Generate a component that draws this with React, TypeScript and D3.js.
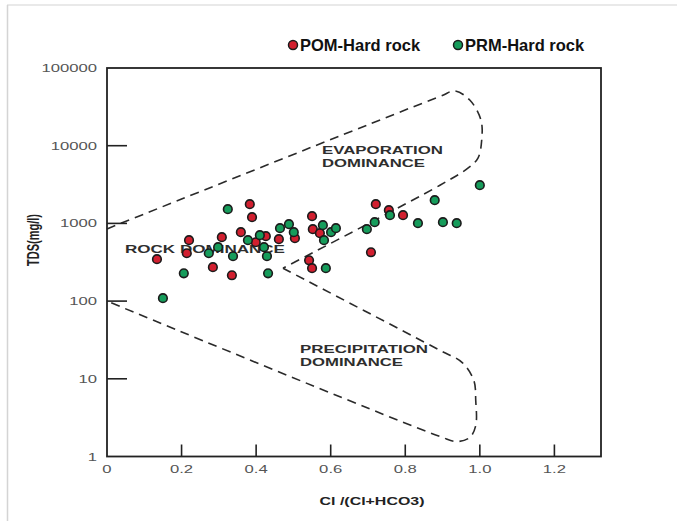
import React from 'react';
import * as d3 from 'd3';

// Gibbs diagram – hard rock samples, two seasons
const pomRatio = [0.134, 0.220, 0.214, 0.284, 0.308, 0.383, 0.389, 0.359, 0.335, 0.426, 0.399, 0.461, 0.504, 0.550, 0.552, 0.571, 0.542, 0.550, 0.721, 0.756, 0.794, 0.708];
const pomTds = [346, 608, 413, 273, 664, 1767, 1202, 771, 215, 684, 572, 626, 645, 1238, 842, 748, 335, 265, 1767, 1479, 1276, 425];

const prmRatio = [0.150, 0.206, 0.273, 0.298, 0.324, 0.338, 0.378, 0.410, 0.421, 0.429, 0.432, 0.464, 0.488, 0.501, 0.579, 0.601, 0.614, 0.582, 0.587, 0.697, 0.718, 0.759, 0.834, 0.879, 0.901, 0.938, 1.000];
const prmTds = [109, 228, 413, 494, 1524, 378, 608, 705, 494, 378, 228, 867, 977, 771, 948, 771, 867, 608, 265, 842, 1036, 1276, 1006, 1991, 1036, 1006, 3105];

// boundary curves (upper: rock/evaporation, lower: rock/precipitation)
const upperX = [0, 0.893, 0.933, 0.973, 1.003, 1.005, 0.995, 0.968, 0.893, 0.472];
const upperY = [850, 43100, 50600, 38700, 21400, 11800, 6920, 5140, 3100, 265];
const lowerX = [0.472, 0.893, 0.952, 0.984, 0.989, 0.989, 0.973, 0.938, 0.893, 0];
const lowerY = [265, 23.2, 16.3, 9.5, 5.3, 2.5, 1.76, 1.56, 1.81, 100];

const xTicks = [0, 0.2, 0.4, 0.6, 0.8, 1.0, 1.2];
const xTickLabels = ['0', '0.2', '0.4', '0.6', '0.8', '1.0', '1.2'];
const yTicks = [1, 10, 100, 1000, 10000, 100000];
const yTickLabels = ['1', '10', '100', '1000', '10000', '100000'];

const RED = '#d11f2f';
const GREEN = '#169c5b';
const FONT = '"Liberation Sans", Arial, sans-serif';
const STRETCH = 1.45;

function SText({ x, y, anchor = 'start', size = 11.5, weight = 'normal', fill = '#333', children }: any) {
  return (
    <text
      transform={`translate(${x},${y}) scale(${STRETCH},1)`}
      textAnchor={anchor}
      fontSize={size}
      fontWeight={weight}
      fill={fill}
      fontFamily={FONT}
    >
      {children}
    </text>
  );
}

export default function App() {
  const width = 677;
  const height = 521;
  const left = 107, right = 601, top = 68, bottom = 456.5;

  const x = d3.scaleLinear().domain([0, 1.325]).range([left, right]);
  const y = d3.scaleLog().domain([1, 100000]).range([bottom, top]);

  const line = d3.line<[number, number]>()
    .x(d => x(d[0]))
    .y(d => y(d[1]))
    .curve(d3.curveCatmullRom.alpha(0.5));

  const upper = line(upperX.map((v, i) => [v, upperY[i]] as [number, number]));
  const lower = line(lowerX.map((v, i) => [v, lowerY[i]] as [number, number]));

  const pom = pomRatio.map((v, i) => ({ x: v, y: pomTds[i] }));
  const prm = prmRatio.map((v, i) => ({ x: v, y: prmTds[i] }));

  const annot = { fontFamily: FONT, fontWeight: 'bold', fontSize: 10.5, fill: '#2e2e2e', lengthAdjust: 'spacingAndGlyphs' } as any;

  return (
    <svg width={width} height={height} style={{ position: 'absolute', left: 0, top: 0, background: '#fff' }}>
      {/* page edges of the screenshot */}
      <line x1={7} x2={width} y1={5} y2={5} stroke="#e2e2e2" strokeWidth={1.5} />
      <line x1={7.5} x2={7.5} y1={5} y2={height} stroke="#d4d4d4" strokeWidth={1.5} />

      {/* legend */}
      <circle cx={293} cy={45} r={4.5} fill={RED} stroke="#1b1b1b" strokeWidth={1.5} />
      <text x={300} y={51} fontFamily={FONT} fontWeight="bold" fontSize={16.5} fill="#111">POM-Hard rock</text>
      <circle cx={458} cy={45} r={4.5} fill={GREEN} stroke="#1b1b1b" strokeWidth={1.5} />
      <text x={465} y={51} fontFamily={FONT} fontWeight="bold" fontSize={16.5} fill="#111">PRM-Hard rock</text>

      {/* region labels */}
      <text x={322} y={154} textLength={121} {...annot}>EVAPORATION</text>
      <text x={322} y={167} textLength={103} {...annot}>DOMINANCE</text>
      <text x={125} y={253} textLength={160} {...annot}>ROCK DOMINANCE</text>
      <text x={300} y={353} textLength={128} {...annot}>PRECIPITATION</text>
      <text x={300} y={366} textLength={103} {...annot}>DOMINANCE</text>

      {/* boundaries */}
      <path d={upper || ''} fill="none" stroke="#2a2a2a" strokeWidth={1.6} strokeDasharray="9,6" />
      <path d={lower || ''} fill="none" stroke="#2a2a2a" strokeWidth={1.6} strokeDasharray="9,6" />

      {/* frame */}
      <rect x={left} y={top} width={right - left} height={bottom - top} fill="none" stroke="#222" strokeWidth={1.8} />

      {/* y ticks */}
      {yTicks.map((t, i) => (
        <g key={t}>
          {i > 0 && i < yTicks.length - 1 && (
            <line x1={left} x2={left + 20} y1={y(t)} y2={y(t)} stroke="#222" strokeWidth={1.6} />
          )}
          <SText x={97} y={y(t) + 4} anchor="end" fill="#555">{yTickLabels[i]}</SText>
        </g>
      ))}

      {/* x ticks */}
      {xTicks.map((t, i) => (
        <g key={t}>
          {i > 0 && (
            <line x1={x(t)} x2={x(t)} y1={bottom} y2={bottom - 12} stroke="#222" strokeWidth={1.6} />
          )}
          <SText x={x(t)} y={473} anchor="middle" fill="#555">{xTickLabels[i]}</SText>
        </g>
      ))}

      {/* axis titles */}
      <SText x={372} y={505} anchor="middle" size={11} weight="bold" fill="#222">Cl /(Cl+HCO3)</SText>
      <text
        transform={`translate(39,240) rotate(-90) scale(1,${STRETCH})`}
        textAnchor="middle"
        fontFamily={FONT}
        fontWeight="bold"
        fontSize={11}
        fill="#222"
      >
        TDS(mg/l)
      </text>

      {/* samples */}
      {pom.map((d, i) => (
        <circle key={'r' + i} cx={x(d.x)} cy={y(d.y)} r={4.3} fill={RED} stroke="#1b1b1b" strokeWidth={1.6} />
      ))}
      {prm.map((d, i) => (
        <circle key={'g' + i} cx={x(d.x)} cy={y(d.y)} r={4.3} fill={GREEN} stroke="#1b1b1b" strokeWidth={1.6} />
      ))}
    </svg>
  );
}
